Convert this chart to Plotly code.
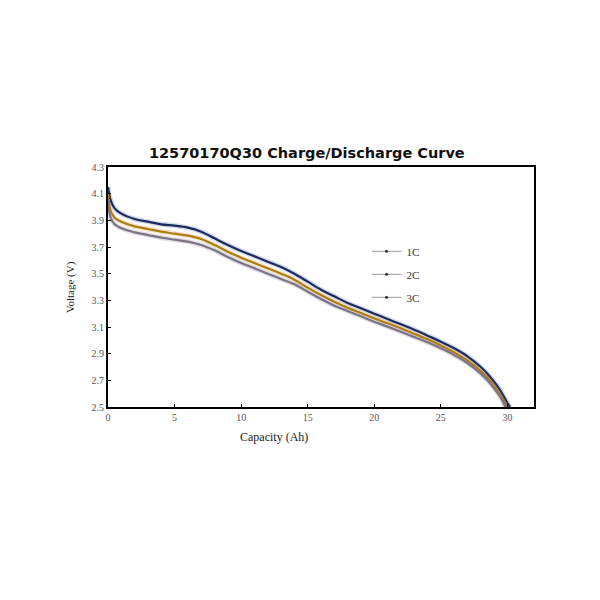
import plotly.graph_objects as go

# capacity (Ah) sample points
cap_1c = [0, 0.2, 0.5, 1, 2, 3, 4, 5, 6, 7, 8, 9, 10, 11, 12, 13, 14, 15, 16, 17,
          18, 19, 20, 21, 22, 23, 24, 25, 26, 27, 28, 28.5, 29, 29.5, 30, 30.2]
volt_1c = [4.15, 4.05, 3.99, 3.95, 3.91, 3.89, 3.87, 3.86, 3.845, 3.815, 3.765, 3.715,
           3.67, 3.63, 3.59, 3.55, 3.50, 3.44, 3.38, 3.33, 3.28, 3.24, 3.20, 3.16,
           3.12, 3.08, 3.035, 2.99, 2.94, 2.88, 2.80, 2.75, 2.69, 2.62, 2.53, 2.50]

cap_2c = [0, 0.2, 0.5, 1, 2, 3, 4, 5, 6, 7, 8, 9, 10, 11, 12, 13, 14, 15, 16, 17,
          18, 19, 20, 21, 22, 23, 24, 25, 26, 27, 28, 28.5, 29, 29.5, 30]
volt_2c = [4.10, 3.97, 3.92, 3.89, 3.855, 3.835, 3.815, 3.80, 3.785, 3.76, 3.715,
           3.665, 3.62, 3.58, 3.54, 3.50, 3.455, 3.395, 3.34, 3.29, 3.245, 3.205, 3.165,
           3.128, 3.09, 3.05, 3.008, 2.962, 2.91, 2.85, 2.77, 2.72, 2.66, 2.59, 2.50]

cap_3c = [0, 0.2, 0.5, 1, 2, 3, 4, 5, 6, 7, 8, 9, 10, 11, 12, 13, 14, 15, 16, 17,
          18, 19, 20, 21, 22, 23, 24, 25, 26, 27, 28, 28.5, 29, 29.5, 29.85]
volt_3c = [4.05, 3.92, 3.87, 3.84, 3.81, 3.79, 3.77, 3.755, 3.74, 3.715, 3.675, 3.625,
           3.58, 3.54, 3.50, 3.46, 3.42, 3.365, 3.31, 3.26, 3.22, 3.18, 3.14,
           3.103, 3.065, 3.025, 2.985, 2.94, 2.89, 2.83, 2.75, 2.70, 2.64, 2.57, 2.50]

series_names = ["1C", "2C", "3C"]
x_ticks = [0, 5, 10, 15, 20, 25, 30]
y_ticks = [2.5, 2.7, 2.9, 3.1, 3.3, 3.5, 3.7, 3.9, 4.1, 4.3]

colors = ["#1d2b5e", "#b07c12", "#7b7486"]
halos = ["rgba(130,150,200,0.35)", "rgba(220,185,120,0.35)", "rgba(195,185,195,0.45)"]
data = [(cap_1c, volt_1c), (cap_2c, volt_2c), (cap_3c, volt_3c)]

fig = go.Figure()

# soft halo under each curve (the reference lines look blurred)
for (xs, ys), halo in zip(data, halos):
    fig.add_trace(go.Scatter(x=xs, y=ys, mode="lines", line=dict(color=halo, width=5, shape="spline"),
                             showlegend=False, hoverinfo="skip"))

for (xs, ys), name, col in zip(data, series_names, colors):
    fig.add_trace(go.Scatter(x=xs, y=ys, mode="lines", name=name,
                             line=dict(color=col, width=2.2, shape="spline"),
                             showlegend=False))

# legend entries: thin grey line with a dot, like the original
for name, col in zip(series_names, colors):
    fig.add_trace(go.Scatter(x=[None], y=[None], mode="lines+markers", name=name,
                             line=dict(color="#9a9a9a", width=1),
                             marker=dict(color="#333333", size=3), legendgroup=name))

serif = "Liberation Serif"

# the page body adds ~8px offset, margins below allow for it
fig.update_layout(
    width=600, height=600,
    paper_bgcolor="white", plot_bgcolor="white",
    margin=dict(l=100, r=74, t=159, b=201),
    title=dict(text="<b>12570170Q30 Charge/Discharge Curve</b>", x=0.498, xanchor="center",
               y=0.758, yanchor="middle",
               font=dict(family="DejaVu Sans", size=14.5, color="#111111")),
    legend=dict(x=0.607, y=0.709, xanchor="left", yanchor="top", bgcolor="rgba(0,0,0,0)",
                font=dict(family=serif, size=11, color="#333333"), tracegroupgap=4, itemwidth=30),
    font=dict(family=serif),
)

fig.update_xaxes(range=[0, 32], tickvals=x_ticks, ticktext=[str(t) for t in x_ticks],
                 showgrid=False, zeroline=False, showline=True, linecolor="black", linewidth=2,
                 mirror=True, ticks="inside", ticklen=3, tickcolor="black",
                 tickfont=dict(family=serif, size=10, color="#555555"))
fig.update_yaxes(range=[2.5, 4.3], tickvals=y_ticks, ticktext=["%.1f" % t for t in y_ticks],
                 showgrid=False, zeroline=False, showline=True, linecolor="black", linewidth=2,
                 mirror=True, ticks="inside", ticklen=3, tickcolor="black",
                 tickfont=dict(family=serif, size=10, color="#555555"))

fig.add_annotation(text="Capacity (Ah)", xref="paper", yref="paper", x=0.39, y=-0.125,
                   xanchor="center", yanchor="middle",
                   showarrow=False, font=dict(family=serif, size=12, color="#222222"))
fig.add_annotation(text="Voltage (V)", xref="paper", yref="paper", x=-0.089, y=0.5,
                   xanchor="center", yanchor="middle",
                   textangle=-90, showarrow=False, font=dict(family=serif, size=11, color="#222222"))

fig.write_html("out.html")
